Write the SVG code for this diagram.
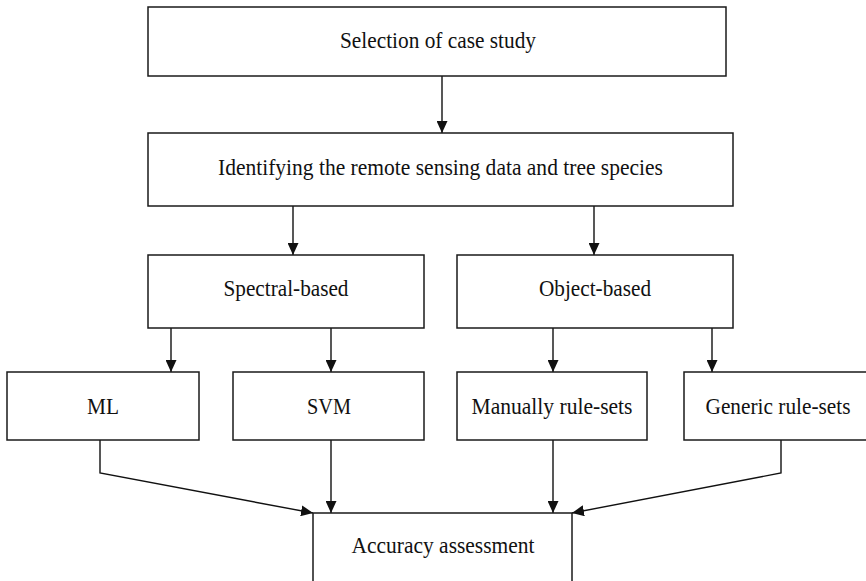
<svg xmlns="http://www.w3.org/2000/svg" width="866" height="581" viewBox="0 0 866 581">
  <style>
    .box { fill: #ffffff; stroke: #1a1a1a; stroke-width: 1.5; }
    .lbl { font-family: "Liberation Serif", "Times New Roman", serif; font-size: 24px; fill: #111111; text-anchor: middle; }
    .wire { fill: none; stroke: #111111; stroke-width: 1.4; }
  </style>
  <defs>
    <marker id="arrow" markerUnits="userSpaceOnUse" markerWidth="12" markerHeight="11" refX="12" refY="5.5" orient="auto">
      <path d="M0,0 L12,5.5 L0,11 z" fill="#111111"/>
    </marker>
  </defs>
  <rect width="866" height="581" fill="#ffffff"/>

  <g id="connectors">
    <line class="wire" x1="442" y1="76" x2="442" y2="133" marker-end="url(#arrow)"/>
    <line class="wire" x1="293" y1="206" x2="293" y2="255" marker-end="url(#arrow)"/>
    <line class="wire" x1="594" y1="206" x2="594" y2="255" marker-end="url(#arrow)"/>
    <line class="wire" x1="171" y1="328" x2="171" y2="372" marker-end="url(#arrow)"/>
    <line class="wire" x1="331" y1="328" x2="331" y2="372" marker-end="url(#arrow)"/>
    <line class="wire" x1="553" y1="328" x2="553" y2="372" marker-end="url(#arrow)"/>
    <line class="wire" x1="712" y1="328" x2="712" y2="372" marker-end="url(#arrow)"/>
    <polyline class="wire" points="100,440 100,473 313,513" marker-end="url(#arrow)"/>
    <line class="wire" x1="331" y1="440" x2="331" y2="513" marker-end="url(#arrow)"/>
    <line class="wire" x1="553" y1="440" x2="553" y2="513" marker-end="url(#arrow)"/>
    <polyline class="wire" points="781,440 781,473 572,513" marker-end="url(#arrow)"/>
  </g>

  <g id="selection">
    <rect class="box" x="148" y="7" width="578" height="69"/>
    <text class="lbl" x="438" y="48" textLength="196" lengthAdjust="spacingAndGlyphs">Selection of case study</text>
  </g>
  <g id="identifying">
    <rect class="box" x="148" y="133" width="585" height="73"/>
    <text class="lbl" x="440.5" y="175" textLength="445" lengthAdjust="spacingAndGlyphs">Identifying the remote sensing data and tree species</text>
  </g>
  <g id="spectral">
    <rect class="box" x="148" y="255" width="276" height="73"/>
    <text class="lbl" x="286" y="296" textLength="125" lengthAdjust="spacingAndGlyphs">Spectral-based</text>
  </g>
  <g id="object">
    <rect class="box" x="457" y="255" width="276" height="73"/>
    <text class="lbl" x="595" y="296" textLength="112" lengthAdjust="spacingAndGlyphs">Object-based</text>
  </g>
  <g id="ml">
    <rect class="box" x="7" y="372" width="192" height="68"/>
    <text class="lbl" x="103" y="414" textLength="32" lengthAdjust="spacingAndGlyphs">ML</text>
  </g>
  <g id="svm">
    <rect class="box" x="233" y="372" width="191" height="68"/>
    <text class="lbl" x="329" y="414" textLength="44" lengthAdjust="spacingAndGlyphs">SVM</text>
  </g>
  <g id="manual">
    <rect class="box" x="457" y="372" width="190" height="68"/>
    <text class="lbl" x="552" y="414" textLength="161" lengthAdjust="spacingAndGlyphs">Manually rule-sets</text>
  </g>
  <g id="generic">
    <rect class="box" x="684" y="372" width="190" height="68"/>
    <text class="lbl" x="778" y="414" textLength="145" lengthAdjust="spacingAndGlyphs">Generic rule-sets</text>
  </g>
  <g id="accuracy">
    <rect class="box" x="313" y="513" width="259" height="75"/>
    <text class="lbl" x="443" y="553" textLength="183" lengthAdjust="spacingAndGlyphs">Accuracy assessment</text>
  </g>
</svg>
